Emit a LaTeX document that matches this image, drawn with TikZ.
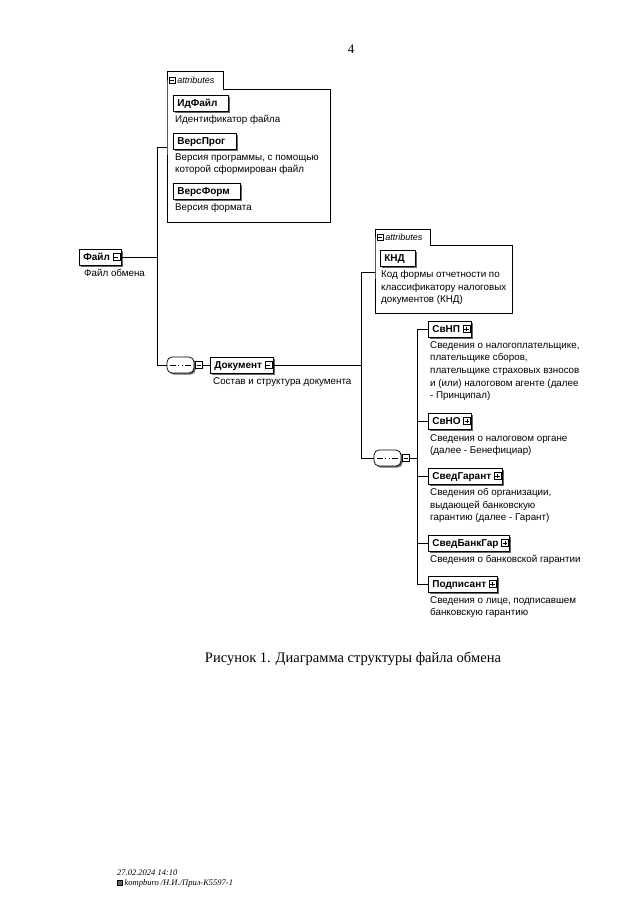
\documentclass[tikz,border=0pt]{standalone}
\usepackage{fontspec}
\setmainfont{Liberation Serif}
\setsansfont{Liberation Sans}
\usetikzlibrary{positioning,shapes.misc,shadows}

\tikzset{
  conn/.style={line width=0.7pt},
  elem/.style={draw, fill=white, line width=0.7pt, anchor=west, minimum height=16pt, inner xsep=4pt, inner ysep=0pt,
    text height=7.6pt, text depth=0.4pt,
    font=\sffamily\bfseries\fontsize{10}{12}\selectfont, execute at end node={\hspace{7pt}},
    drop shadow={shadow xshift=1.6pt, shadow yshift=-1.6pt, fill=black!60, opacity=1}},
  desc/.style={anchor=north west, inner sep=0pt, align=left, font=\sffamily\fontsize{9.8}{12.6}\selectfont},
  btn/.style={draw, fill=white, line width=0.5pt, minimum size=7pt, inner sep=0pt},
  btnminus/.style={btn, path picture={
    \draw ([xshift=1.4pt]path picture bounding box.west) -- ([xshift=-1.4pt]path picture bounding box.east);}},
  btnplus/.style={btn, path picture={
    \draw ([xshift=1.4pt]path picture bounding box.west) -- ([xshift=-1.4pt]path picture bounding box.east);
    \draw ([yshift=-1.4pt]path picture bounding box.north) -- ([yshift=1.4pt]path picture bounding box.south);}},
  seqbox/.style={rectangle, rounded corners=5pt, draw, fill=white,
    line width=0.7pt, minimum width=27pt, minimum height=16pt, inner sep=0pt,
    drop shadow={shadow xshift=1.6pt, shadow yshift=-1.6pt, fill=black!60, opacity=1},
    path picture={
      \draw[sharp corners] ([xshift=3pt]path picture bounding box.west) -- ([xshift=-3pt]path picture bounding box.east);
      \foreach \dx in {-3.5pt,0pt,3.5pt}
        \fill[sharp corners] ([xshift=\dx]path picture bounding box.center) +(-1.2pt,-1.2pt) rectangle +(1.2pt,1.2pt);}},
  frame/.style={inner sep=0pt},
  tabtxt/.style={inner sep=0pt, font=\sffamily\itshape\fontsize{9}{10}\selectfont},
}

\begin{document}
\begin{tikzpicture}[x=1pt,y=-1pt]
  \useasboundingbox (0,0) rectangle (640,923);

  %% Page number
  \node[font=\fontsize{13}{15}\selectfont] (pnum) at (351,49) {4};

  %% Root element
  \node[elem] (fajl) at (79,257) {Файл};
  \node[btnminus] (fajlb) at ([xshift=-5pt]fajl.east) {};
  \node[desc] (fajld) at ([xshift=5pt,yshift=-4pt]fajl.south west) {Файл обмена};

  %% Attributes of Файл
  \node[frame, minimum width=163pt, minimum height=133pt, anchor=north west] (attA) at (167,89) {};
  \node[frame, minimum width=56pt, minimum height=17pt, anchor=south west] (tabA) at (167,89) {};
  \draw[conn] (tabA.south west) |- (tabA.north east) |- (attA.north east) |- (attA.south west) -- cycle;
  \node[btnminus, minimum size=6pt] (tabAb) at ([xshift=5pt]tabA.west) {};
  \node[tabtxt, right=2pt of tabAb] (tabAt) {attributes};

  \node[elem] (idf) at (173,103) {ИдФайл};
  \node[desc] (idfd) at ([xshift=2pt,yshift=-4pt]idf.south west) {Идентификатор файла};
  \node[elem] (vp) at (173,141) {ВерсПрог};
  \node[desc] (vpd) at ([xshift=2pt,yshift=-4pt]vp.south west) {Версия программы, с помощью\\которой сформирован файл};
  \node[elem] (vf) at (173,191) {ВерсФорм};
  \node[desc] (vfd) at ([xshift=2pt,yshift=-4pt]vf.south west) {Версия формата};

  %% Sequence under Файл
  \node[seqbox] (seq1) at (180.5,365) {};
  \node[btnminus, anchor=west] (seq1b) at ([xshift=1pt]seq1.east) {};
  \node[elem] (dok) at (210,365) {Документ};
  \node[btnminus] (dokb) at ([xshift=-5pt]dok.east) {};
  \node[desc] (dokd) at ([xshift=3pt,yshift=-4pt]dok.south west) {Состав и структура документа};

  %% Attributes of Документ
  \node[frame, minimum width=137pt, minimum height=68pt, anchor=north west] (attB) at (375,245) {};
  \node[frame, minimum width=55pt, minimum height=15pt, anchor=south west] (tabB) at (375,245) {};
  \draw[conn] (tabB.south west) |- (tabB.north east) |- (attB.north east) |- (attB.south west) -- cycle;
  \node[btnminus, minimum size=6pt] (tabBb) at ([xshift=5pt]tabB.west) {};
  \node[tabtxt, right=2pt of tabBb] (tabBt) {attributes};

  \node[elem] (knd) at (380,258) {КНД\hspace{5pt}};
  \node[desc] (kndd) at ([xshift=1pt,yshift=-4pt]knd.south west) {Код формы отчетности по\\классификатору налоговых\\документов (КНД)};

  %% Sequence under Документ
  \node[seqbox] (seq2) at (387.5,458) {};
  \node[btnminus, anchor=west] (seq2b) at ([xshift=1pt]seq2.east) {};

  \node[elem] (svnp) at (428,329) {СвНП};
  \node[btnplus] (svnpb) at ([xshift=-5pt]svnp.east) {};
  \node[desc] (svnpd) at ([xshift=2pt,yshift=-4pt]svnp.south west) {Сведения о налогоплательщике,\\плательщике сборов,\\плательщике страховых взносов\\и (или) налоговом агенте (далее\\- Принципал)};

  \node[elem] (svno) at (428,421) {СвНО};
  \node[btnplus] (svnob) at ([xshift=-5pt]svno.east) {};
  \node[desc] (svnod) at ([xshift=2pt,yshift=-5pt]svno.south west) {Сведения о налоговом органе\\(далее - Бенефициар)};

  \node[elem] (svg) at (428,476) {СведГарант};
  \node[btnplus] (svgb) at ([xshift=-5pt]svg.east) {};
  \node[desc] (svgd) at ([xshift=2pt,yshift=-4pt]svg.south west) {Сведения об организации,\\выдающей банковскую\\гарантию (далее - Гарант)};

  \node[elem] (svbg) at (428,543) {СведБанкГар};
  \node[btnplus] (svbgb) at ([xshift=-5pt]svbg.east) {};
  \node[desc] (svbgd) at ([xshift=2pt,yshift=-4pt]svbg.south west) {Сведения о банковской гарантии};

  \node[elem] (podp) at (428,584) {Подписант};
  \node[btnplus] (podpb) at ([xshift=-5pt]podp.east) {};
  \node[desc] (podpd) at ([xshift=2pt,yshift=-4pt]podp.south west) {Сведения о лице, подписавшем\\банковскую гарантию};

  %% Connectors
  \coordinate (t1a) at (157,147);
  \coordinate (t1b) at (157,365);
  \draw[conn] (t1a) -- (t1b);
  \draw[conn] (fajl.east) -- (fajl.east -| t1a);
  \draw[conn] (t1a) -- (t1a -| attA.west);
  \draw[conn] (t1b) -- (seq1.west);
  \draw[conn] (seq1b.east) -- (dok.west);

  \coordinate (t2a) at (361,272);
  \coordinate (t2b) at (361,458);
  \draw[conn] (t2a) -- (t2b);
  \draw[conn] (dok.east) -- (dok.east -| t2a);
  \draw[conn] (t2a) -- (t2a -| attB.west);
  \draw[conn] (t2b) -- (seq2.west);

  \coordinate (t3a) at (417,329);
  \coordinate (t3b) at (417,584);
  \draw[conn] (t3a) -- (t3b);
  \draw[conn] (seq2b.east) -- (seq2b.east -| t3a);
  \foreach \n in {svnp,svno,svg,svbg,podp}
    \draw[conn] (\n.west -| t3a) -- (\n.west);

  %% Caption
  \node[font=\fontsize{14.5}{17}\selectfont] (cap) at (353,659) {Рисунок 1. Диаграмма структуры файла обмена};

  %% Footer
  \node[anchor=west, inner sep=0pt, font=\itshape\fontsize{8.5}{10}\selectfont] (date) at (117,873) {27.02.2024 14:10};
  \node[draw, fill=black!60, minimum size=5pt, inner sep=0pt, anchor=west] (disk) at (117,883) {};
  \node[anchor=west, inner sep=0pt, font=\itshape\fontsize{8.5}{10}\selectfont] (fpath) at ([xshift=2pt]disk.east) {kompburo /Н.И./Прил-К5597-1};
\end{tikzpicture}
\end{document}
